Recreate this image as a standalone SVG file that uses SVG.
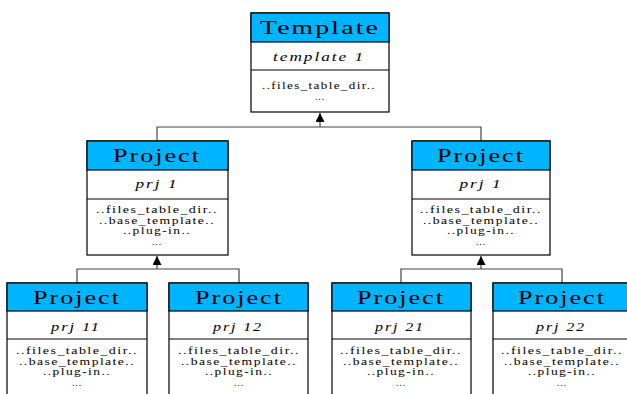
<svg xmlns="http://www.w3.org/2000/svg" width="627" height="394" viewBox="0 0 627 394">
<style>
.box{fill:#fff;stroke:#000;stroke-width:1.2}
.hd{fill:#00B4FF;stroke:#000;stroke-width:1.2}
.sep{stroke:#000;stroke-width:1.2}
.t{font-family:"Liberation Serif",serif;fill:#000;text-anchor:middle}
.h{font-size:19px;letter-spacing:1.5px}
.n{font-size:13px;font-style:italic;letter-spacing:1.5px}
.b{font-size:9.5px;letter-spacing:1px}
.c{fill:none;stroke:#444;stroke-width:1.2}
</style>
<defs>
<marker id="arr" viewBox="0 0 10 10" refX="10" refY="5" markerWidth="10" markerHeight="9" markerUnits="userSpaceOnUse" orient="auto">
<path d="M0,0 L10,5 L0,10 Z" fill="#000"/>
</marker>
</defs>
<rect width="627" height="394" fill="#fff"/>
<g id="connectors">
<path class="c" d="M157,141 V127 H481 V141"/>
<path class="c" d="M320,127 V113" marker-end="url(#arr)"/>
<path class="c" d="M77,283 V269 H239 V283"/>
<path class="c" d="M157,269 V256" marker-end="url(#arr)"/>
<path class="c" d="M401,283 V269 H562 V283"/>
<path class="c" d="M481,269 V256" marker-end="url(#arr)"/>
</g>
<g id="template">
<rect class="box" x="251" y="13" width="138" height="99"/>
<rect class="hd" x="251" y="13" width="138" height="29"/>
<line class="sep" x1="251" y1="70" x2="389" y2="70"/>
<text class="t h" x="320" y="34" textLength="120" lengthAdjust="spacingAndGlyphs">Template</text>
<text class="t n" x="319" y="61" textLength="92" lengthAdjust="spacingAndGlyphs">template 1</text>
<text class="t b" x="319" y="89" textLength="114" lengthAdjust="spacingAndGlyphs">..files_table_dir..</text>
<text class="t b" x="320" y="100">...</text>
</g>
<g id="prj1a">
<rect class="box" x="87" y="141" width="141" height="114"/>
<rect class="hd" x="87" y="141" width="141" height="29"/>
<line class="sep" x1="87" y1="199" x2="228" y2="199"/>
<text class="t h" x="157" y="162" textLength="88" lengthAdjust="spacingAndGlyphs">Project</text>
<text class="t n" x="157" y="188" textLength="43" lengthAdjust="spacingAndGlyphs">prj 1</text>
<text class="t b" x="157" y="213" textLength="122" lengthAdjust="spacingAndGlyphs">..files_table_dir..</text>
<text class="t b" x="157" y="223.5" textLength="116" lengthAdjust="spacingAndGlyphs">..base_template..</text>
<text class="t b" x="157" y="234" textLength="68" lengthAdjust="spacingAndGlyphs">..plug-in..</text>
<text class="t b" x="157" y="245">...</text>
</g>
<g id="prj1b">
<rect class="box" x="412" y="141" width="138" height="114"/>
<rect class="hd" x="412" y="141" width="138" height="29"/>
<line class="sep" x1="412" y1="199" x2="550" y2="199"/>
<text class="t h" x="481" y="162" textLength="88" lengthAdjust="spacingAndGlyphs">Project</text>
<text class="t n" x="481" y="188" textLength="43" lengthAdjust="spacingAndGlyphs">prj 1</text>
<text class="t b" x="481" y="213" textLength="122" lengthAdjust="spacingAndGlyphs">..files_table_dir..</text>
<text class="t b" x="481" y="223.5" textLength="116" lengthAdjust="spacingAndGlyphs">..base_template..</text>
<text class="t b" x="481" y="234" textLength="68" lengthAdjust="spacingAndGlyphs">..plug-in..</text>
<text class="t b" x="481" y="245">...</text>
</g>
<g id="prj11">
<rect class="box" x="7" y="283" width="140" height="120"/>
<rect class="hd" x="7" y="283" width="140" height="28"/>
<line class="sep" x1="7" y1="339" x2="147" y2="339"/>
<text class="t h" x="77" y="304" textLength="88" lengthAdjust="spacingAndGlyphs">Project</text>
<text class="t n" x="76" y="331" textLength="50" lengthAdjust="spacingAndGlyphs">prj 11</text>
<text class="t b" x="77" y="354" textLength="122" lengthAdjust="spacingAndGlyphs">..files_table_dir..</text>
<text class="t b" x="77" y="364.5" textLength="116" lengthAdjust="spacingAndGlyphs">..base_template..</text>
<text class="t b" x="77" y="375" textLength="68" lengthAdjust="spacingAndGlyphs">..plug-in..</text>
<text class="t b" x="77" y="386">...</text>
</g>
<g id="prj12">
<rect class="box" x="169" y="283" width="139" height="120"/>
<rect class="hd" x="169" y="283" width="139" height="28"/>
<line class="sep" x1="169" y1="339" x2="308" y2="339"/>
<text class="t h" x="239" y="304" textLength="88" lengthAdjust="spacingAndGlyphs">Project</text>
<text class="t n" x="238" y="331" textLength="50" lengthAdjust="spacingAndGlyphs">prj 12</text>
<text class="t b" x="239" y="354" textLength="122" lengthAdjust="spacingAndGlyphs">..files_table_dir..</text>
<text class="t b" x="239" y="364.5" textLength="116" lengthAdjust="spacingAndGlyphs">..base_template..</text>
<text class="t b" x="239" y="375" textLength="68" lengthAdjust="spacingAndGlyphs">..plug-in..</text>
<text class="t b" x="239" y="386">...</text>
</g>
<g id="prj21">
<rect class="box" x="332" y="283" width="139" height="120"/>
<rect class="hd" x="332" y="283" width="139" height="28"/>
<line class="sep" x1="332" y1="339" x2="471" y2="339"/>
<text class="t h" x="401" y="304" textLength="88" lengthAdjust="spacingAndGlyphs">Project</text>
<text class="t n" x="400" y="331" textLength="50" lengthAdjust="spacingAndGlyphs">prj 21</text>
<text class="t b" x="401" y="354" textLength="122" lengthAdjust="spacingAndGlyphs">..files_table_dir..</text>
<text class="t b" x="401" y="364.5" textLength="116" lengthAdjust="spacingAndGlyphs">..base_template..</text>
<text class="t b" x="401" y="375" textLength="68" lengthAdjust="spacingAndGlyphs">..plug-in..</text>
<text class="t b" x="401" y="386">...</text>
</g>
<g id="prj22">
<rect class="box" x="493" y="283" width="140" height="120"/>
<rect class="hd" x="493" y="283" width="140" height="28"/>
<line class="sep" x1="493" y1="339" x2="633" y2="339"/>
<text class="t h" x="562" y="304" textLength="88" lengthAdjust="spacingAndGlyphs">Project</text>
<text class="t n" x="561" y="331" textLength="50" lengthAdjust="spacingAndGlyphs">prj 22</text>
<text class="t b" x="562" y="354" textLength="122" lengthAdjust="spacingAndGlyphs">..files_table_dir..</text>
<text class="t b" x="562" y="364.5" textLength="116" lengthAdjust="spacingAndGlyphs">..base_template..</text>
<text class="t b" x="562" y="375" textLength="68" lengthAdjust="spacingAndGlyphs">..plug-in..</text>
<text class="t b" x="562" y="386">...</text>
</g>
</svg>
